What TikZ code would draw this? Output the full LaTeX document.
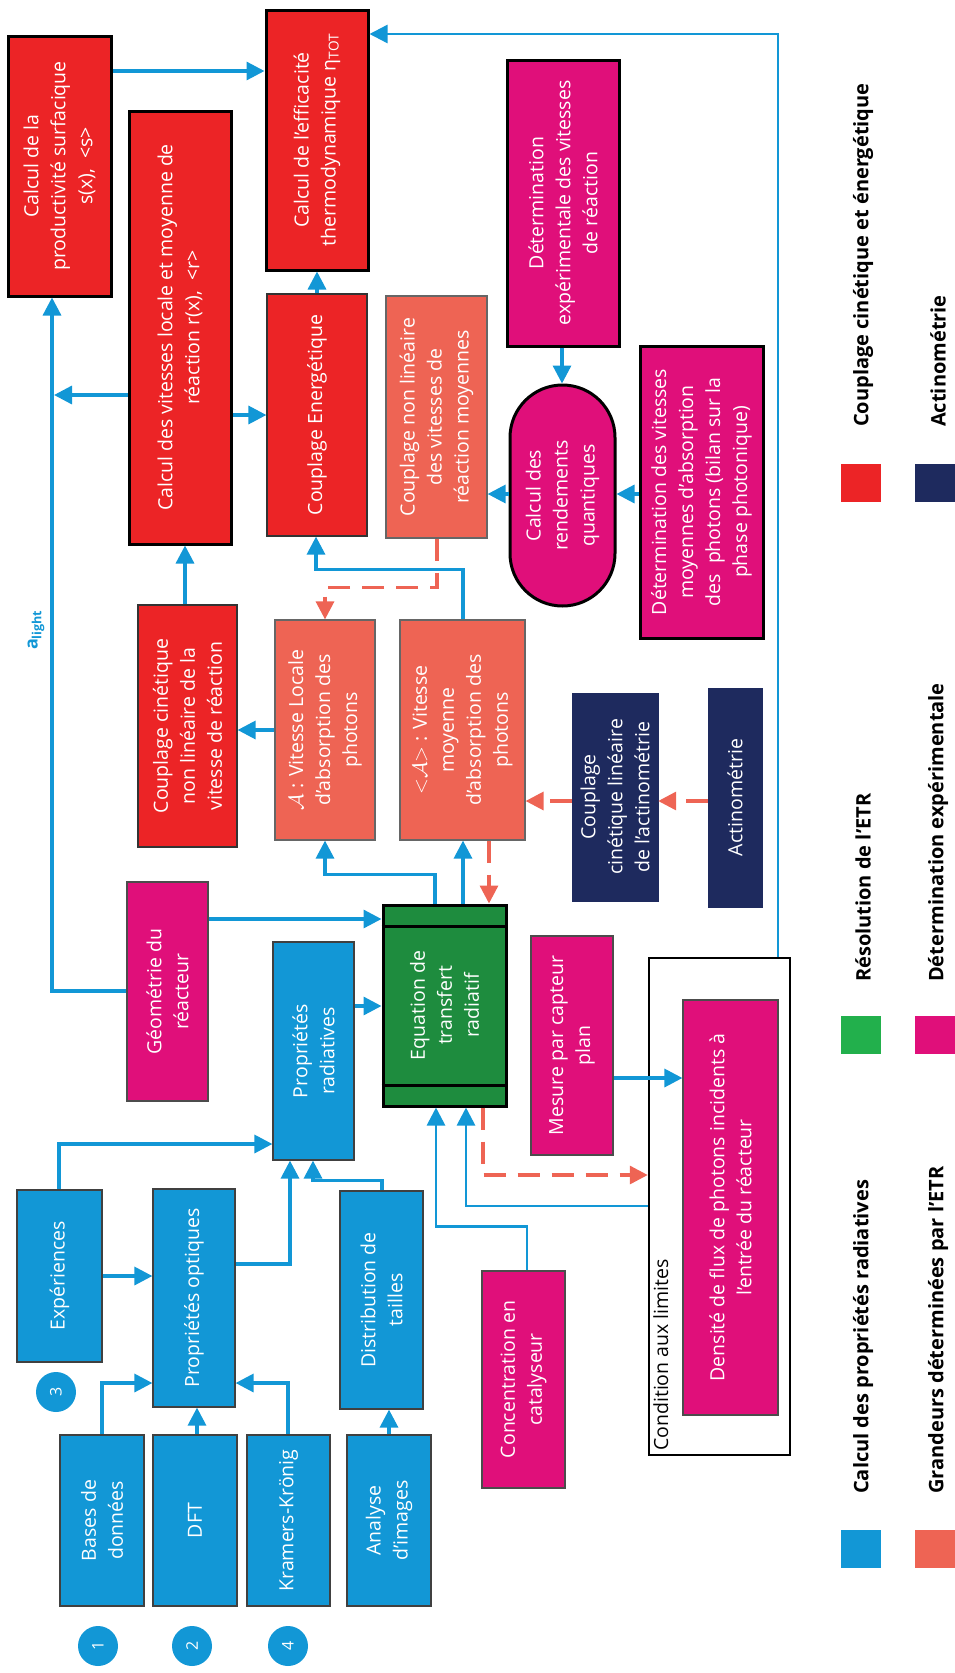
\documentclass[tikz,border=0pt]{standalone}
\usepackage{fontspec}
\setmainfont{Open Sans}
\usetikzlibrary{arrows.meta,shapes.misc}
\definecolor{cblue}{RGB}{18,151,214}
\definecolor{cred}{RGB}{236,36,38}
\definecolor{ccoral}{RGB}{238,100,84}
\definecolor{cmag}{RGB}{224,15,122}
\definecolor{cgreen}{RGB}{30,140,62}
\definecolor{clgreen}{RGB}{34,176,76}
\definecolor{cnavy}{RGB}{30,42,94}
\newcommand\bfnt{\fontsize{19.5}{27}\selectfont}
\newcommand\lfnt{\fontsize{20}{24}\selectfont\bfseries}
\tikzset{
  base/.style={rotate=90, align=center, text=white, font=\bfnt, inner sep=1pt},
  dims/.style 2 args={minimum width=#2, minimum height=#1},
  bluebox/.style={base, fill=cblue, draw=black!75, line width=1.2pt},
  redthick/.style={base, fill=cred, draw=black, line width=3pt},
  redthin/.style={base, fill=cred, draw=black!80, line width=1.2pt},
  coralbox/.style={base, fill=ccoral, draw=black!60, line width=1.2pt},
  magthick/.style={base, fill=cmag, draw=black, line width=3pt},
  magthin/.style={base, fill=cmag, draw=black!70, line width=1.2pt},
  navybox/.style={base, fill=cnavy, draw=cnavy},
  arr/.style={draw=cblue, line width=3.3pt, -{Triangle[length=18pt,width=18pt]}},
  carr/.style={draw=ccoral, line width=3.3pt, dash pattern=on 22pt off 12pt, -{Triangle[length=18pt,width=18pt]}},
  num/.style={circle, fill=cblue, minimum size=40pt, inner sep=0pt, text=white, rotate=90, font=\fontsize{16}{16}\selectfont},
  legsq/.style={minimum width=40pt, minimum height=38pt, inner sep=0pt},
  legtxt/.style={rotate=90, anchor=west, font=\lfnt, inner sep=0pt}
}
\begin{document}
\begin{tikzpicture}[x=1pt,y=-1pt]
\useasboundingbox (0,0) rectangle (955,1673);
% boxes
\node[redthick, dims={103}{260}] (prod) at (59.5,166) {Calcul de la\\productivité surfacique\\s(x),\ \ <s>};
\node[redthick, dims={102}{260}] (eff) at (317,140) {Calcul de l'efficacité\\thermodynamique η\textsubscript{TOT}};
\node[redthick, dims={102}{433}] (vit) at (180,327.5) {Calcul des vitesses locale et moyenne de\\réaction r(x),\ \ <r>};
\node[redthin, dims={100}{242}] (coupE) at (317,415) {Couplage Energétique};
\node[coralbox, dims={101}{242}] (coupNL) at (436.5,417) {Couplage non linéaire\\des vitesses de\\réaction moyennes};
\node[magthick, dims={112}{286}] (detexp) at (563,203) {Détermination\\expérimentale des vitesses\\de réaction};
\node[magthick, rounded rectangle, dims={105}{223}] (rend) at (562.5,495.5) {Calcul des\\rendements\\quantiques};
\node[magthick, dims={123}{292}] (detmoy) at (701.5,492) {Détermination des vitesses\\moyennes d'absorption\\des\ \ photons (bilan sur la\\phase photonique)};
\node[redthin, dims={99}{242}] (coupCNL) at (187.5,726) {Couplage cinétique\\non linéaire de la\\vitesse de réaction};
\node[coralbox, dims={100}{220}] (Aloc) at (325,730) {$\mathcal{A}$ : Vitesse Locale\\d'absorption des\\photons};
\node[coralbox, dims={125}{220}] (Amoy) at (462.5,730) {$\mathord{<}\mathcal{A}\mathord{>}$ : Vitesse\\moyenne\\d'absorption des\\photons};
\node[navybox, dims={86}{208}] (coupLin) at (615,797) {Couplage\\cinétique linéaire\\de l'actinométrie};
\node[navybox, dims={54}{219}] (actino) at (735,797.5) {Actinométrie};
\node[magthin, dims={81}{219}] (geom) at (167.5,991.5) {Géométrie du\\réacteur};
\node[bluebox, dims={81}{218}] (proprad) at (313.5,1051) {Propriétés\\radiatives};
\node[base, fill=cgreen, draw=black, line width=3pt, dims={123}{201}] (etr) at (444.5,1005.5) {Equation de\\transfert\\radiatif};
\draw[line width=3pt] (etr.north |- 0,926) -- (etr.south |- 0,926);
\draw[line width=3pt] (etr.north |- 0,1085) -- (etr.south |- 0,1085);
\node[magthin, dims={82}{219}] (mesure) at (572,1045.5) {Mesure par capteur\\plan};
\node[base, draw=black, line width=2.5pt, fill=white, dims={141}{497}] (cond) at (719.5,1206.5) {};
\node[rotate=90, anchor=north west, font=\bfnt, inner sep=1pt] (condlbl) at (652,1452) {Condition aux limites};
\node[magthin, dims={95}{415}] (dens) at (730.5,1207.5) {Densité de flux de photons incidents à\\l'entrée du réacteur};
\node[bluebox, dims={85}{172}] (exp) at (59.5,1276) {Expériences};
\node[bluebox, dims={82}{218}] (popt) at (194,1298) {Propriétés optiques};
\node[bluebox, dims={83}{218}] (dist) at (381.5,1300) {Distribution de\\tailles};
\node[bluebox, dims={84}{171}] (bases) at (102,1520.5) {Bases de\\données};
\node[bluebox, dims={84}{171}] (dft) at (195,1520.5) {DFT};
\node[bluebox, dims={83}{171}] (kk) at (288.5,1520.5) {Kramers-Krönig};
\node[bluebox, dims={84}{171}] (analyse) at (389,1520.5) {Analyse\\d'images};
\node[magthin, dims={83}{217}] (conc) at (523.5,1379.5) {Concentration en\\catalyseur};
\node[num] (n3) at (56,1392) {3};
\node[num] (n1) at (98,1646) {1};
\node[num] (n2) at (192,1646) {2};
\node[num] (n4) at (288,1646) {4};
\node[rotate=90, text=cblue, font=\fontsize{18}{18}\selectfont\bfseries, inner sep=0pt] (alight) at (36,630) {a\textsubscript{light}};
% connectors
\draw[arr] (prod.south |- 0,71) -- (eff.north |- 0,71);
\draw[arr, line width=2.4pt] (cond.east -| 778,0) |- (eff.south |- 0,34);
\coordinate (vl) at (54,395);
\draw[arr] (geom.north |- 0,991) -| (prod.west -| 52,0);
\draw[arr] (vit.north |- vl) -- (vl);
\draw[arr] (vit.south |- 0,415) -- (coupE.north |- 0,415);
\draw[arr] (coupE.east) -- (eff.west);
\draw[arr] (coupCNL.east -| 185,0) -- (vit.west -| 185,0);
\draw[arr] (Amoy.east -| 463,0) -- ++(0,-50) -| (coupE.west -| 316,0);
\draw[carr] (coupNL.west -| 437,0) -- ++(0,49) -| (Aloc.east -| 325,0);
\draw[arr] (Aloc.north |- 0,730) -- (coupCNL.south |- 0,730);
\draw[arr] (etr.east -| 435,0) -- ++(0,-29) -| (Aloc.west -| 325,0);
\draw[arr] (etr.east -| 463,0) -- (Amoy.west -| 463,0);
\draw[carr] (Amoy.west -| 489,0) -- (etr.east -| 489,0);
\draw[carr] (coupLin.north |- 0,801) -- (Amoy.south |- 0,801);
\draw[carr] (actino.north |- 0,801) -- (coupLin.south |- 0,801);
\draw[arr] (detexp.west -| 562,0) -- (rend.east -| 562,0);
\draw[arr] (rend.north |- 0,494) -- (coupNL.south |- 0,494);
\draw[arr] (detmoy.north |- 0,494) -- (rend.south |- 0,494);
\draw[arr] (geom.south |- 0,919) -- (etr.north |- 0,919);
\draw[arr] (proprad.south |- 0,1006) -- (etr.north |- 0,1006);
\draw[arr, line width=2.8pt] (conc.east -| 527,0) -- ++(0,-44) -| (etr.west -| 436,0);
\draw[arr, line width=2.8pt] (cond.north |- 0,1206) -| (etr.west -| 466,0);
\draw[carr] (etr.west -| 483,0) |- (cond.north |- 0,1175);
\draw[arr] (mesure.south |- 0,1078) -- (dens.north |- 0,1078);
\draw[arr] (exp.east -| 59,0) |- (proprad.north |- 0,1144);
\draw[arr] (exp.south |- 0,1276) -- (popt.north |- 0,1276);
\draw[arr] (popt.south |- 0,1264) -| (proprad.west -| 290,0);
\draw[arr] (dist.east -| 382,0) -- ++(0,-10) -| (proprad.west -| 313,0);
\draw[arr] (bases.east -| 102,0) |- (popt.north |- 0,1383);
\draw[arr] (dft.east -| 197,0) -- (popt.west -| 197,0);
\draw[arr] (kk.east -| 288,0) |- (popt.south |- 0,1383);
\draw[arr] (analyse.east -| 389,0) -- (dist.west -| 389,0);
% legend
\node[legsq, fill=cblue] (lgb) at (861,1549) {};
\node[legtxt] (lgbt) at (863,1494) {Calcul des propriétés radiatives};
\node[legsq, fill=ccoral] (lgc) at (935,1549) {};
\node[legtxt] (lgct) at (938,1494) {Grandeurs déterminées par l'ETR};
\node[legsq, fill=clgreen] (lgg) at (861,1034.5) {};
\node[legtxt] (lggt) at (863,982) {Résolution de l'ETR};
\node[legsq, fill=cmag] (lgm) at (935,1034.5) {};
\node[legtxt] (lgmt) at (938,982) {Détermination expérimentale};
\node[legsq, fill=cred] (lgr) at (861,482.5) {};
\node[legtxt] (lgrt) at (863,427) {Couplage cinétique et énergétique};
\node[legsq, fill=cnavy] (lgn) at (935,482.5) {};
\node[legtxt] (lgnt) at (938,427) {Actinométrie};
\end{tikzpicture}
\end{document}
